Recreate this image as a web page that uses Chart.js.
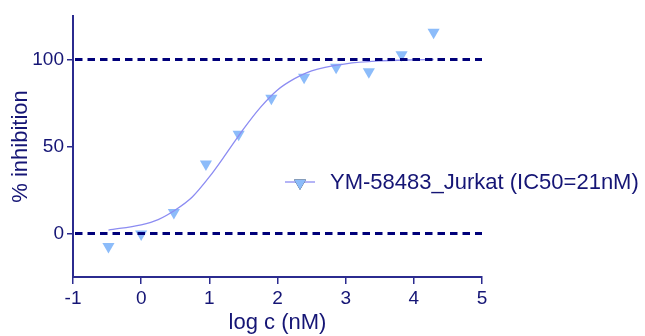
<!DOCTYPE html>
<html>
<head>
<meta charset="utf-8">
<script src="https://cdn.jsdelivr.net/npm/chart.js@4"></script>
<style>
  html, body { margin: 0; padding: 0; background: #fff; }
  #wrap { width: 645px; height: 336px; position: relative; }
</style>
</head>
<body>
<div id="wrap"><canvas id="chart" width="645" height="336"></canvas></div>
<script>
// measured points (log c in nM, % inhibition)
const logC = [-0.48, 0, 0.48, 0.95, 1.43, 1.91, 2.39, 2.86, 3.34, 3.82, 4.29];
const inhibition = [-7.5, -0.3, 12, 40, 57, 77.7, 89.8, 95.6, 92.9, 102.8, 115.7];
// fitted curve
const curveX = [-0.48, 0, 0.25, 0.5, 0.75, 1, 1.25, 1.5, 1.75, 2, 2.25, 2.5, 3, 3.5, 4, 4.29];
const curveY = [2, 5, 8, 13.5, 21, 32.5, 46, 60, 72.5, 82.5, 89, 93.5, 97.5, 99.2, 99.8, 100];
const refLevels = [0, 100];
const xRange = [-1, 5];
const yRange = [-25, 125];
const yTicks = [0, 50, 100];
const legendLabel = 'YM-58483_Jurkat (IC50=21nM)';

const navy = '#00007a';
const axisCol = '#2b2b8f';
const textCol = '#151575';
const markerCol = '#8cbcfa';
const curveCol = '#8c8cf2';
const font = 'Arial, "Liberation Sans", sans-serif';

const refSets = refLevels.map(v => ({
  type: 'line',
  data: [{ x: xRange[0], y: v }, { x: xRange[1], y: v }],
  borderColor: navy, borderWidth: 3, borderDash: [7.5, 5], borderDashOffset: -2,
  pointRadius: 0, fill: false
}));

const legendPlugin = {
  id: 'sideLegend',
  afterDraw(chart) {
    const ctx = chart.ctx;
    const y = 182;
    ctx.save();
    ctx.strokeStyle = curveCol;
    ctx.lineWidth = 1.3;
    ctx.beginPath();
    ctx.moveTo(285, y);
    ctx.lineTo(315, y);
    ctx.stroke();
    Chart.helpers.drawPoint(ctx, { pointStyle: 'triangle', radius: 7, rotation: 180 }, 300, y + 1);
    ctx.fillStyle = markerCol;
    ctx.fill();
    ctx.fillStyle = textCol;
    ctx.font = '22px ' + font;
    ctx.textBaseline = 'middle';
    ctx.fillText(legendLabel, 330, y + 1);
    ctx.restore();
  }
};

new Chart(document.getElementById('chart'), {
  type: 'scatter',
  data: {
    datasets: [
      ...refSets,
      {
        type: 'line',
        data: curveX.map((x, i) => ({ x, y: curveY[i] })),
        borderColor: curveCol, borderWidth: 1.3, cubicInterpolationMode: 'monotone',
        pointRadius: 0, fill: false
      },
      {
        label: legendLabel,
        data: logC.map((x, i) => ({ x, y: inhibition[i] })),
        pointStyle: 'triangle', rotation: 180, pointRadius: 7,
        backgroundColor: markerCol, borderColor: markerCol, borderWidth: 0
      }
    ]
  },
  options: {
    responsive: false,
    animation: false,
    devicePixelRatio: 1,
    layout: { padding: { left: 8, right: 163, top: 16, bottom: 0 } },
    plugins: { legend: { display: false }, tooltip: { enabled: false } },
    scales: {
      x: {
        type: 'linear', min: xRange[0], max: xRange[1],
        ticks: { stepSize: 1, color: textCol, font: { family: font, size: 19 }, padding: 3, maxRotation: 0 },
        grid: { drawOnChartArea: false, drawTicks: true, tickLength: 7, color: axisCol, lineWidth: 1.5 },
        border: { display: true, color: axisCol, width: 2 },
        title: { display: true, text: 'log c (nM)', color: textCol, font: { family: font, size: 22 }, padding: { top: 0, bottom: 0 } },
        afterFit(scale) { scale.height = 336 - 277; }
      },
      y: {
        type: 'linear', min: yRange[0], max: yRange[1],
        afterBuildTicks(scale) { scale.ticks = yTicks.map(v => ({ value: v })); },
        ticks: { color: textCol, font: { family: font, size: 19 }, padding: 3 },
        grid: { drawOnChartArea: false, drawTicks: true, tickLength: 6, color: axisCol, lineWidth: 1.5 },
        border: { display: true, color: axisCol, width: 2 },
        title: { display: true, text: '% inhibition', color: textCol, font: { family: font, size: 22 }, padding: { top: 0, bottom: 4 } },
        afterFit(scale) { scale.width = 73 - 8; }
      }
    }
  },
  plugins: [legendPlugin]
});
</script>
</body>
</html>
